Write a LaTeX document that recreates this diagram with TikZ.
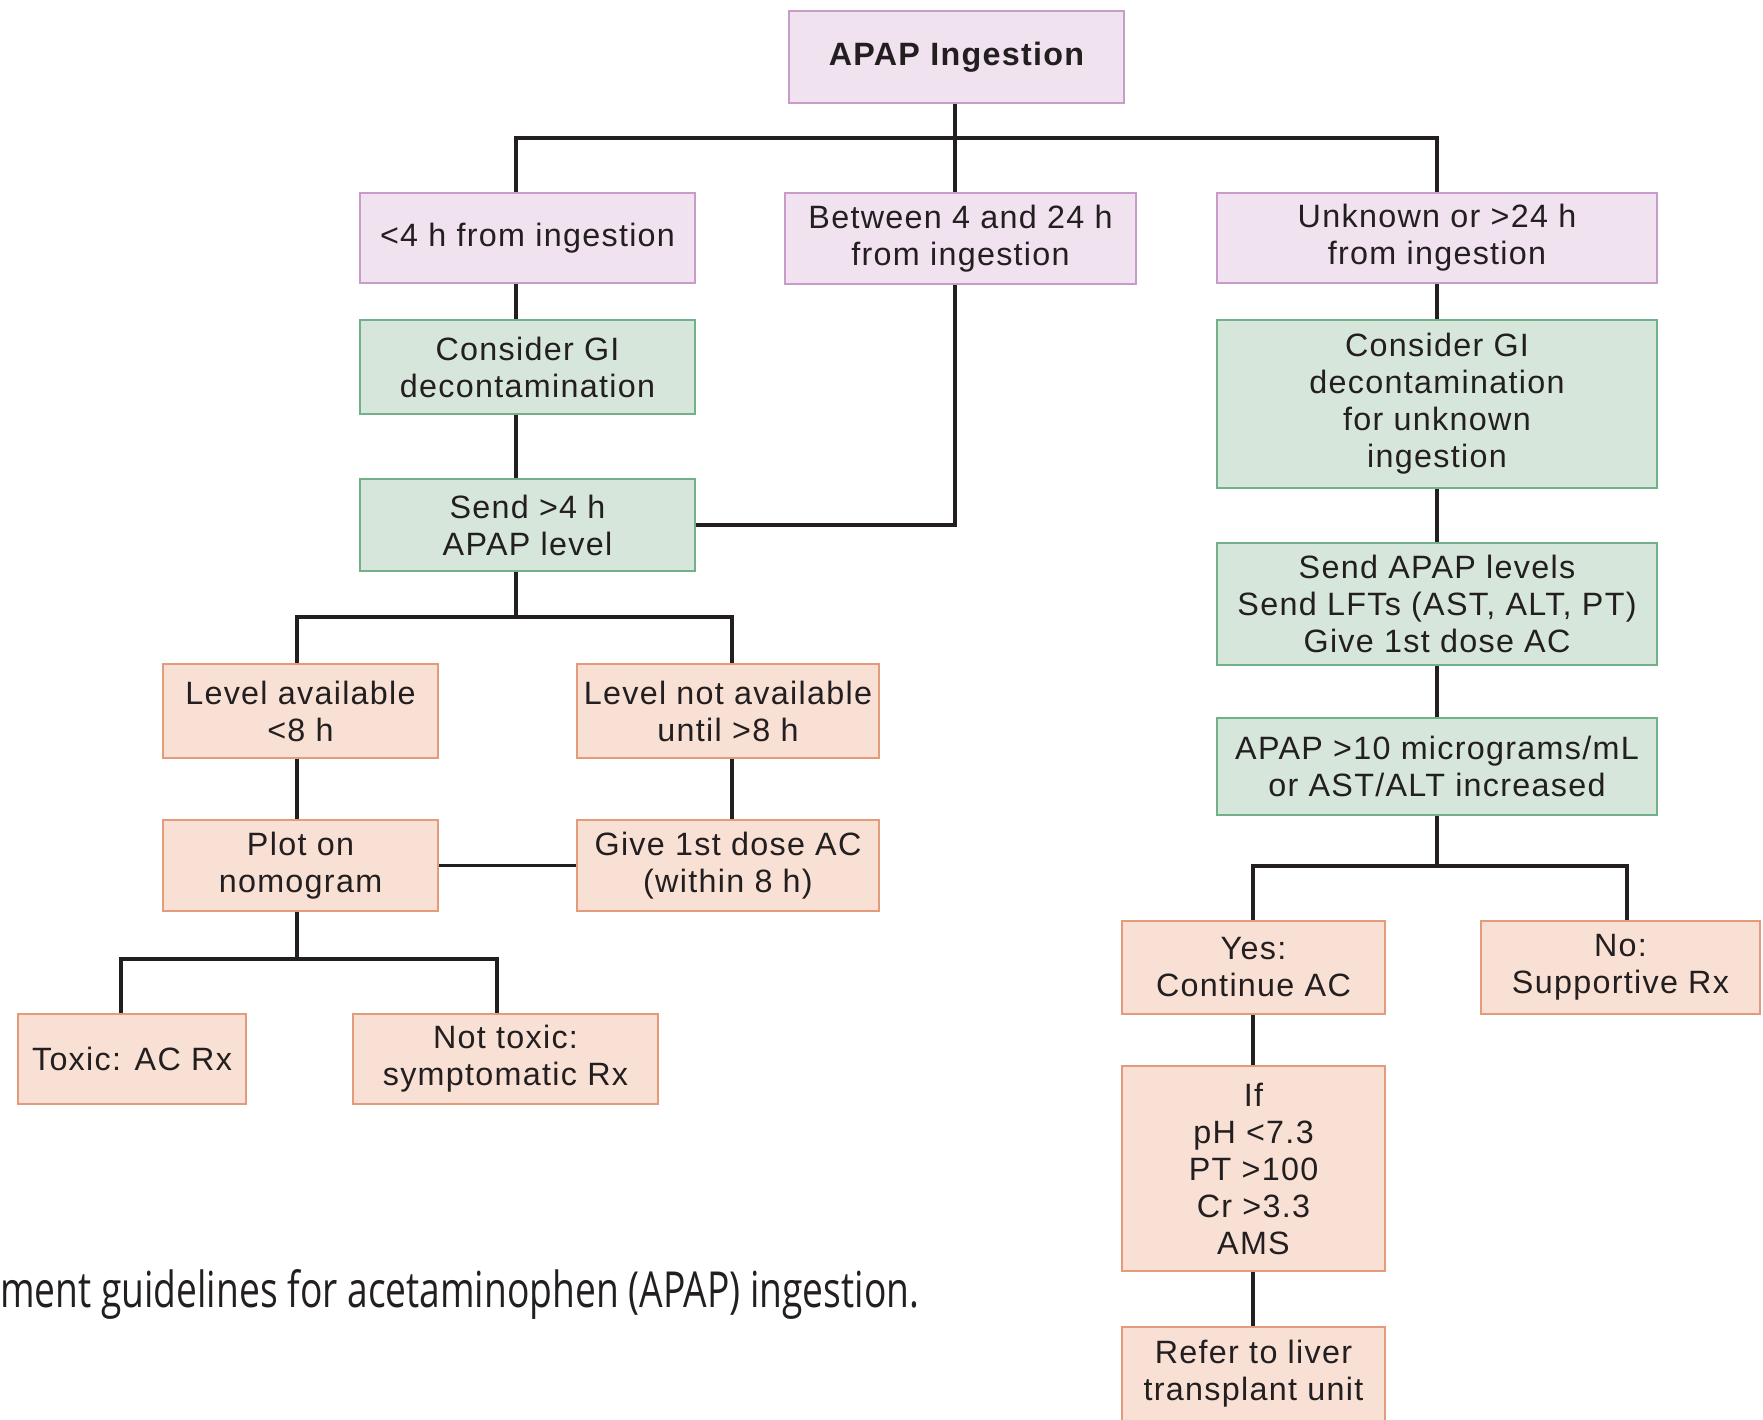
\documentclass[tikz,border=0pt]{standalone}
\usepackage{fontspec}
\usepackage{graphicx}
\setmainfont{Liberation Sans}[LetterSpace=4.0]
\newfontfamily\capfont{Open Sans}
\definecolor{pinkfill}{HTML}{F1E2F0}
\definecolor{pinkline}{HTML}{C89CC9}
\definecolor{greenfill}{HTML}{D6E6DA}
\definecolor{greenline}{HTML}{72B08A}
\definecolor{orfill}{HTML}{F9E0D4}
\definecolor{orline}{HTML}{E39B7B}
\definecolor{ink}{HTML}{231F20}
\tikzset{
  box/.style={rectangle, draw, line width=2pt, inner sep=0pt, align=center,
    text=ink, font=\fontsize{32.3}{37}\selectfont},
  pinkbox/.style={box, fill=pinkfill, draw=pinkline},
  greenbox/.style={box, fill=greenfill, draw=greenline},
  orbox/.style={box, fill=orfill, draw=orline},
  conn/.style={draw=ink, line width=3.5pt},
}
\begin{document}
\begin{tikzpicture}[x=1pt, y=-1pt]
\useasboundingbox (0,0) rectangle (1763,1419);
% top level
\node[pinkbox, minimum width=335pt, minimum height=92pt, font=\fontsize{32.3}{37}\selectfont\bfseries] (in) at (956.5,57) {APAP Ingestion};
\node[pinkbox, minimum width=335pt, minimum height=90pt] (lt4) at (527.5,238) {<4 h from ingestion};
\node[pinkbox, minimum width=351pt, minimum height=91pt] (btw) at (960.5,238.5) {Between 4 and 24 h\\from ingestion};
\node[pinkbox, minimum width=440pt, minimum height=90pt] (unk) at (1437,238) {Unknown or >24 h\\from ingestion};
% left branch
\node[greenbox, minimum width=335pt, minimum height=94pt] (gi1) at (527.5,367) {Consider GI\\decontamination};
\node[greenbox, minimum width=335pt, minimum height=92pt] (snd) at (527.5,525) {Send >4 h\\APAP level};
\node[orbox, minimum width=275pt, minimum height=94pt] (lav) at (300.5,711) {Level available\\<8 h};
\node[orbox, minimum width=302pt, minimum height=94pt] (lna) at (728,711) {Level not available\\until >8 h};
\node[orbox, minimum width=275pt, minimum height=91pt] (plot) at (300.5,865.5) {Plot on\\nomogram};
\node[orbox, minimum width=302pt, minimum height=91pt] (give) at (728,865.5) {Give 1st dose AC\\(within 8 h)};
\node[orbox, minimum width=228pt, minimum height=90pt] (tox) at (132,1059) {Toxic: AC Rx};
\node[orbox, minimum width=305pt, minimum height=90pt] (ntx) at (505.5,1059) {Not toxic:\\symptomatic Rx};
% right branch
\node[greenbox, minimum width=440pt, minimum height=168pt] (gi2) at (1437,404) {Consider GI\\decontamination\\for unknown\\ingestion};
\node[greenbox, minimum width=440pt, minimum height=122pt] (snd2) at (1437,604) {Send APAP levels\\Send LFTs (AST, ALT, PT)\\Give 1st dose AC};
\node[greenbox, minimum width=440pt, minimum height=97pt] (ap10) at (1437,766.5) {APAP >10 micrograms/mL\\or AST/ALT increased};
\node[orbox, minimum width=263pt, minimum height=93pt] (yes) at (1253.5,967.5) {Yes:\\Continue AC};
\node[orbox, minimum width=279pt, minimum height=93pt] (no) at (1620.5,967.5) {No:\\Supportive Rx};
\node[orbox, minimum width=263pt, minimum height=205pt] (iff) at (1253.5,1168.5) {If\\pH <7.3\\PT >100\\Cr >3.3\\AMS};
\node[orbox, minimum width=263pt, minimum height=94pt] (ref) at (1253.5,1374) {Refer to liver\\transplant unit};
% caption
\node[anchor=base west, inner sep=0pt, text=ink] (cap) at (0,1307) {\resizebox{919pt}{38pt}{\capfont ment guidelines for acetaminophen (APAP) ingestion.}};
% bus coordinates
\coordinate (t1) at (516,138);
\coordinate (t2) at (955,138);
\coordinate (t3) at (1437,138);
\coordinate (b2) at (516,617);
\coordinate (b2l) at (297,617);
\coordinate (b2r) at (732,617);
\coordinate (b3) at (297,959);
\coordinate (b3l) at (121,959);
\coordinate (b3r) at (497,959);
\coordinate (b4) at (1437,866);
\coordinate (b4l) at (1253,866);
\coordinate (b4r) at (1627,866);
% connectors
\draw[conn] (in.south -| t2) -- (btw.north -| t2);
\draw[conn] (t1 |- lt4.north) -- (t1) -- (t3) -- (t3 |- unk.north);
\draw[conn] (t1 |- lt4.south) -- (t1 |- gi1.north);
\draw[conn] (t1 |- gi1.south) -- (t1 |- snd.north);
\draw[conn] (btw.south -| t2) |- (snd.east);
\draw[conn] (t1 |- snd.south) -- (b2);
\draw[conn] (b2l |- lav.north) -- (b2l) -- (b2r) -- (b2r |- lna.north);
\draw[conn] (b2l |- lav.south) -- (b2l |- plot.north);
\draw[conn] (b2r |- lna.south) -- (b2r |- give.north);
\draw[conn] (plot.east) -- (give.west);
\draw[conn] (b3 |- plot.south) -- (b3);
\draw[conn] (b3l |- tox.north) -- (b3l) -- (b3r) -- (b3r |- ntx.north);
\draw[conn] (unk.south) -- (gi2.north);
\draw[conn] (gi2.south) -- (snd2.north);
\draw[conn] (snd2.south) -- (ap10.north);
\draw[conn] (ap10.south) -- (b4);
\draw[conn] (b4l |- yes.north) -- (b4l) -- (b4r) -- (b4r |- no.north);
\draw[conn] (b4l |- yes.south) -- (b4l |- iff.north);
\draw[conn] (b4l |- iff.south) -- (b4l |- ref.north);
\end{tikzpicture}
\end{document}
